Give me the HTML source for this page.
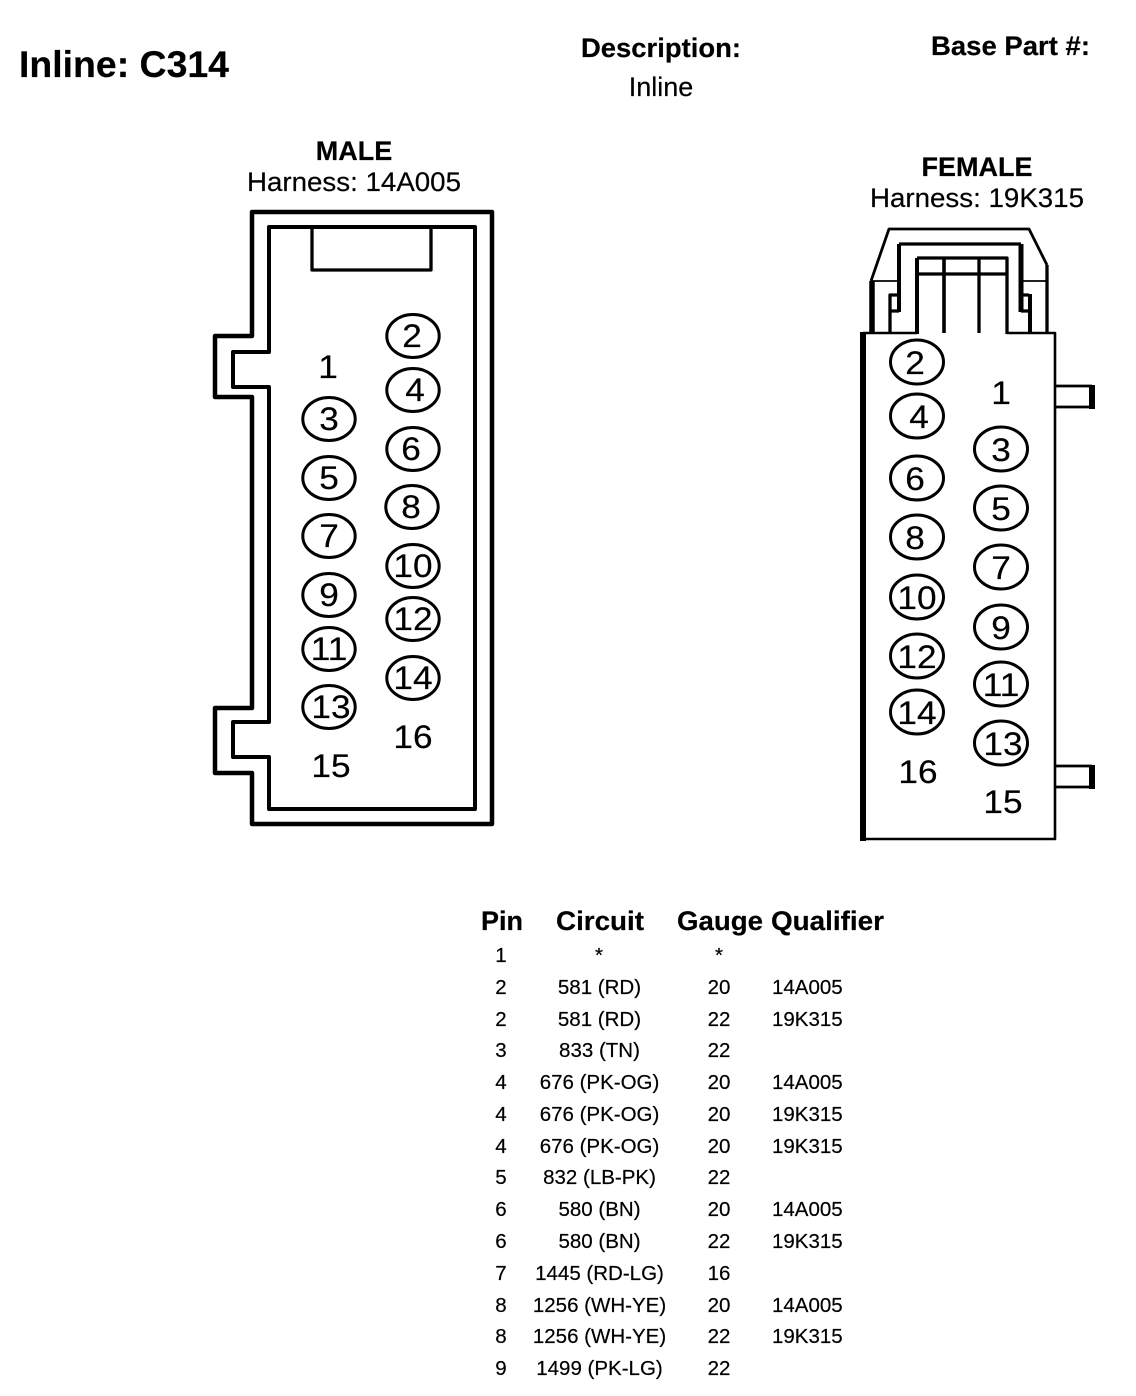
<!DOCTYPE html>
<html><head><meta charset="utf-8"><style>
html,body{margin:0;padding:0;background:#fff}
svg{display:block}
text{font-family:"Liberation Sans",Arial,sans-serif;fill:#000;stroke:#000;stroke-width:.2}
.b{font-weight:bold;font-size:27px}
.h{font-size:27px}
.m{text-anchor:middle}
.t{font-size:20.5px}
.d{font-size:32px;text-anchor:middle}
.l{fill:none;stroke:#000;stroke-linejoin:round;stroke-linecap:butt}
ellipse{fill:none;stroke:#000;stroke-width:3}
.ma{rx:26.2px;ry:21.5px}
.fe{rx:26.5px;ry:22px}
</style></head><body>
<svg width="1136" height="1396" viewBox="0 0 1136 1396" xmlns="http://www.w3.org/2000/svg">
<text class="b" x="19" y="77" style="font-size:37px" textLength="210" lengthAdjust="spacingAndGlyphs">Inline: C314</text>
<text class="b" x="581" y="57" textLength="160" lengthAdjust="spacingAndGlyphs">Description:</text>
<text class="h m" x="661" y="96">Inline</text>
<text class="b" x="931" y="55" textLength="159" lengthAdjust="spacingAndGlyphs">Base Part #:</text>
<text class="b m" x="354" y="160">MALE</text>
<text class="h" x="247" y="191" textLength="214" lengthAdjust="spacingAndGlyphs">Harness: 14A005</text>
<text class="b m" x="977" y="176">FEMALE</text>
<text class="h" x="870" y="207" textLength="214" lengthAdjust="spacingAndGlyphs">Harness: 19K315</text>

<!-- male connector -->
<path class="l" stroke-width="4.5" d="M252 212H492V824H252V773H215V708H252V397H215V336H252Z"/>
<path class="l" stroke-width="4" d="M269 227H475V809H269V757H233V722H269V387H233V352H269Z"/>
<path class="l" stroke-width="3.3" d="M312 227V270H431V227"/>
<ellipse class="ma" cx="413" cy="336" rx="26.2" ry="21.5"/><ellipse class="ma" cx="413" cy="390" rx="26.2" ry="21.5"/><ellipse class="ma" cx="413" cy="449" rx="26.2" ry="21.5"/><ellipse class="ma" cx="412" cy="507" rx="26.2" ry="21.5"/><ellipse class="ma" cx="413" cy="566" rx="26.2" ry="21.5"/><ellipse class="ma" cx="413" cy="619" rx="26.2" ry="21.5"/><ellipse class="ma" cx="413" cy="678" rx="26.2" ry="21.5"/>
<ellipse class="ma" cx="329" cy="419" rx="26.2" ry="21.5"/><ellipse class="ma" cx="329" cy="478" rx="26.2" ry="21.5"/><ellipse class="ma" cx="329" cy="536" rx="26.2" ry="21.5"/><ellipse class="ma" cx="329" cy="595" rx="26.2" ry="21.5"/><ellipse class="ma" cx="329" cy="649" rx="26.2" ry="21.5"/><ellipse class="ma" cx="329" cy="707" rx="26.2" ry="21.5"/>
<text class="d" transform="translate(328 378) scale(1.1 1)">1</text>
<text class="d" transform="translate(412 347) scale(1.1 1)">2</text>
<text class="d" transform="translate(415 401) scale(1.1 1)">4</text>
<text class="d" transform="translate(411 460) scale(1.1 1)">6</text>
<text class="d" transform="translate(411 518) scale(1.1 1)">8</text>
<text class="d" transform="translate(413 577) scale(1.1 1)">10</text>
<text class="d" transform="translate(413 630) scale(1.1 1)">12</text>
<text class="d" transform="translate(413 689) scale(1.1 1)">14</text>
<text class="d" transform="translate(413 748) scale(1.1 1)">16</text>
<text class="d" transform="translate(329 430) scale(1.1 1)">3</text>
<text class="d" transform="translate(329 489) scale(1.1 1)">5</text>
<text class="d" transform="translate(329 547) scale(1.1 1)">7</text>
<text class="d" transform="translate(329 606) scale(1.1 1)">9</text>
<text class="d" transform="translate(329 660) scale(1.1 1)">11</text>
<text class="d" transform="translate(331 718) scale(1.1 1)">13</text>
<text class="d" transform="translate(331 777) scale(1.1 1)">15</text>

<!-- female connector -->
<path class="l" stroke-width="2.6" d="M863 333H917M1007 333H1055V839H863"/>
<path class="l" stroke-width="6" d="M863 332V841"/>
<path class="l" stroke-width="4" d="M917 334V258"/>
<path class="l" stroke-width="3.3" d="M917 258H1007V334M917 274H1007M979 258V333"/>
<path class="l" stroke-width="3.6" d="M944 258V333"/>
<path class="l" stroke-width="5.5" d="M872 333V281"/>
<path class="l" stroke-width="2.8" d="M871 281L889 229H1029L1047 265"/>
<path class="l" stroke-width="3.3" d="M1047 265V333"/>
<path class="l" stroke-width="1.8" d="M871 281H899M1022 281H1047"/>
<path class="l" stroke-width="4" d="M899 312V244"/>
<path class="l" stroke-width="3.3" d="M899 244H1021M890 333V295H899M890 311H899M1021 295H1029M1021 311H1029"/>
<path class="l" stroke-width="5" d="M1021 244V312"/>
<path class="l" stroke-width="4" d="M1030 294V333"/>
<path class="l" stroke-width="2.8" d="M1056 386H1092M1056 407H1092M1056 766H1092M1056 787H1092"/>
<rect x="1089" y="385" width="6" height="24"/><rect x="1089" y="765" width="6" height="24"/>
<ellipse class="fe" cx="917" cy="362" rx="26.5" ry="22"/><ellipse class="fe" cx="917" cy="416" rx="26.5" ry="22"/><ellipse class="fe" cx="917" cy="478" rx="26.5" ry="22"/><ellipse class="fe" cx="917" cy="537" rx="26.5" ry="22"/><ellipse class="fe" cx="917" cy="597" rx="26.5" ry="22"/><ellipse class="fe" cx="917" cy="656" rx="26.5" ry="22"/><ellipse class="fe" cx="917" cy="712" rx="26.5" ry="22"/>
<ellipse class="fe" cx="1001" cy="449" rx="26.5" ry="22"/><ellipse class="fe" cx="1001" cy="508" rx="26.5" ry="22"/><ellipse class="fe" cx="1001" cy="567" rx="26.5" ry="22"/><ellipse class="fe" cx="1001" cy="627" rx="26.5" ry="22"/><ellipse class="fe" cx="1001" cy="684" rx="26.5" ry="22"/><ellipse class="fe" cx="1001" cy="743" rx="26.5" ry="22"/>
<text class="d" transform="translate(1001 404) scale(1.1 1)">1</text>
<text class="d" transform="translate(915 374) scale(1.1 1)">2</text>
<text class="d" transform="translate(919 428) scale(1.1 1)">4</text>
<text class="d" transform="translate(915 490) scale(1.1 1)">6</text>
<text class="d" transform="translate(915 549) scale(1.1 1)">8</text>
<text class="d" transform="translate(917 609) scale(1.1 1)">10</text>
<text class="d" transform="translate(917 668) scale(1.1 1)">12</text>
<text class="d" transform="translate(917 724) scale(1.1 1)">14</text>
<text class="d" transform="translate(918 783) scale(1.1 1)">16</text>
<text class="d" transform="translate(1001 461) scale(1.1 1)">3</text>
<text class="d" transform="translate(1001 520) scale(1.1 1)">5</text>
<text class="d" transform="translate(1001 579) scale(1.1 1)">7</text>
<text class="d" transform="translate(1001 639) scale(1.1 1)">9</text>
<text class="d" transform="translate(1001 696) scale(1.1 1)">11</text>
<text class="d" transform="translate(1003 755) scale(1.1 1)">13</text>
<text class="d" transform="translate(1003 813) scale(1.1 1)">15</text>

<!-- table -->
<text class="b" x="481" y="930" textLength="42" lengthAdjust="spacingAndGlyphs">Pin</text>
<text class="b" x="556" y="930" textLength="88" lengthAdjust="spacingAndGlyphs">Circuit</text>
<text class="b" x="677" y="930" textLength="86" lengthAdjust="spacingAndGlyphs">Gauge</text>
<text class="b" x="771" y="930" textLength="113" lengthAdjust="spacingAndGlyphs">Qualifier</text>

<g class="t">
<text class="m" x="501" y="962">1</text><text class="m" x="599" y="962">*</text><text class="m" x="719" y="962">*</text>
<text class="m" x="501" y="994">2</text><text class="m" x="599.500" y="994">581 (RD)</text><text class="m" x="719" y="994">20</text><text x="772" y="994">14A005</text>
<text class="m" x="501" y="1026">2</text><text class="m" x="599.500" y="1026">581 (RD)</text><text class="m" x="719" y="1026">22</text><text x="772" y="1026">19K315</text>
<text class="m" x="501" y="1057">3</text><text class="m" x="599.500" y="1057">833 (TN)</text><text class="m" x="719" y="1057">22</text>
<text class="m" x="501" y="1089">4</text><text class="m" x="599.500" y="1089">676 (PK-OG)</text><text class="m" x="719" y="1089">20</text><text x="772" y="1089">14A005</text>
<text class="m" x="501" y="1121">4</text><text class="m" x="599.500" y="1121">676 (PK-OG)</text><text class="m" x="719" y="1121">20</text><text x="772" y="1121">19K315</text>
<text class="m" x="501" y="1153">4</text><text class="m" x="599.500" y="1153">676 (PK-OG)</text><text class="m" x="719" y="1153">20</text><text x="772" y="1153">19K315</text>
<text class="m" x="501" y="1184">5</text><text class="m" x="599.500" y="1184">832 (LB-PK)</text><text class="m" x="719" y="1184">22</text>
<text class="m" x="501" y="1216">6</text><text class="m" x="599.500" y="1216">580 (BN)</text><text class="m" x="719" y="1216">20</text><text x="772" y="1216">14A005</text>
<text class="m" x="501" y="1248">6</text><text class="m" x="599.500" y="1248">580 (BN)</text><text class="m" x="719" y="1248">22</text><text x="772" y="1248">19K315</text>
<text class="m" x="501" y="1280">7</text><text class="m" x="599.500" y="1280">1445 (RD-LG)</text><text class="m" x="719" y="1280">16</text>
<text class="m" x="501" y="1312">8</text><text class="m" x="599.500" y="1312">1256 (WH-YE)</text><text class="m" x="719" y="1312">20</text><text x="772" y="1312">14A005</text>
<text class="m" x="501" y="1343">8</text><text class="m" x="599.500" y="1343">1256 (WH-YE)</text><text class="m" x="719" y="1343">22</text><text x="772" y="1343">19K315</text>
<text class="m" x="501" y="1375">9</text><text class="m" x="599.500" y="1375">1499 (PK-LG)</text><text class="m" x="719" y="1375">22</text>
</g>
</svg>
</body></html>
